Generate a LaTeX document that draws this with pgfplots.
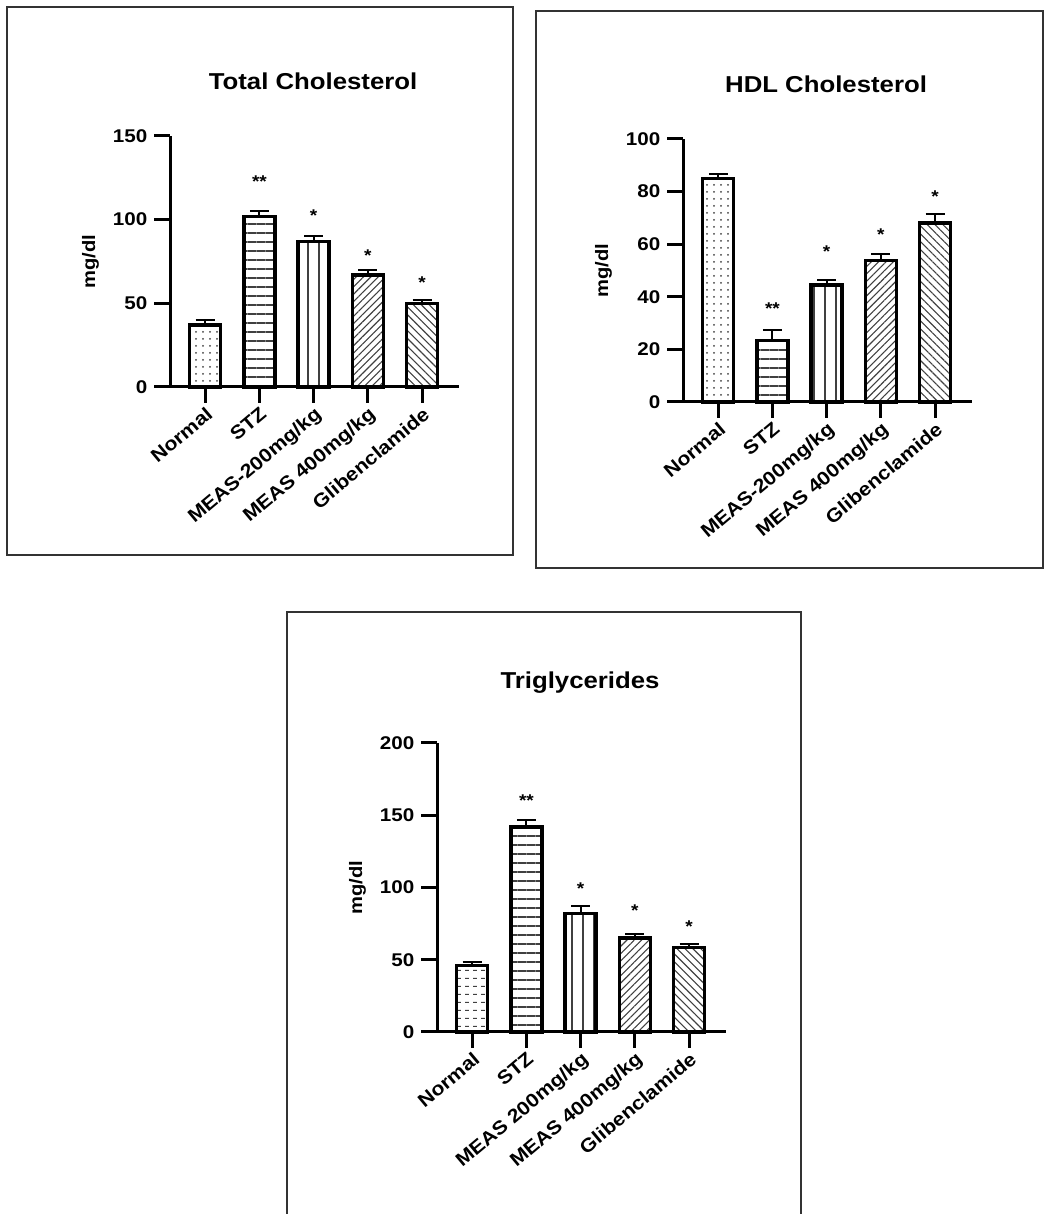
\documentclass[border=0pt]{standalone}
\usepackage{fontspec}
\setmainfont{Liberation Sans}[FakeStretch=1.12]
\usepackage{pgfplots}
\pgfplotsset{compat=1.18}
\usetikzlibrary{patterns.meta}
\tikzdeclarepattern{
  name=dashrows, type=uncolored,
  bounding box={(0,0) and (4pt,4pt)},
  tile size={(4pt,4pt)},
  code={\draw[line width=0.5pt] (0.6pt,2pt) -- (2.6pt,2pt);}
}
\pgfplotsset{
  panel/.style={
    scale only axis, width=144.5pt,
    ybar, bar width=15.5pt, bar shift=0pt,
    xmin=-0.65, xmax=4.68, ymin=0,
    axis x line*=bottom, axis y line*=left,
    axis line style={line width=1.5pt, black},
    every tick/.style={line width=1.5pt, black},
    major tick length=7.8pt,
    tick align=outside,
    xtick={0,1,2,3,4},
    x tick label style={rotate=40, anchor=north east, font=\bfseries\fontsize{9.5}{10}\selectfont, inner sep=1pt},
    y tick label style={font=\bfseries\fontsize{9.2}{10}\selectfont},
    /pgf/number format/assume math mode=true,
    ylabel={mg/dl},
    ylabel style={at={(axis description cs:-0.275,0.5)}, anchor=center, font=\bfseries\fontsize{9}{10}\selectfont},
    title style={at={(axis description cs:0.495,1)}, anchor=center, font=\bfseries\fontsize{11.5}{12}\selectfont},
    clip=false,
  },
  bars/.style={draw=black, line width=1.7pt, pattern={#1}, pattern color=black!75,
    error bars/.cd, y dir=plus, y explicit,
    error bar style={line width=1pt, black, solid},
    error mark options={rotate=90, mark size=4.75pt, line width=1pt, black}},
  stars/.style={only marks, mark=none, nodes near coords, point meta=explicit symbolic,
    nodes near coords style={anchor=center, yshift=-2pt, font=\bfseries\fontsize{8.5}{9}\selectfont}},
}
\begin{document}
\begin{tikzpicture}
\path[use as bounding box] (0,0) rectangle (522.5pt,607pt);
% frames
\draw[line width=1pt, black!80] (3.5pt,603.5pt) rectangle (256.5pt,329.5pt);
\draw[line width=1pt, black!80] (268pt,601.5pt) rectangle (521.5pt,323pt);
\draw[line width=1pt, black!80] (143.5pt,-1pt) -- (143.5pt,301pt) -- (400.5pt,301pt) -- (400.5pt,-1pt);

% Panel 1
\begin{axis}[panel, at={(85pt,413.5pt)}, anchor=south west, height=125.5pt,
  ymax=150, ytick={0,50,100,150},
  title={Total Cholesterol}, title style={yshift=21.5pt},
  xticklabels={Normal,STZ,MEAS-200mg/kg,MEAS 400mg/kg,Glibenclamide}]
\addplot[bars={Dots[distance=3.5pt, radius=0.5pt]}] coordinates {(0,37) +- (0,3)};
\addplot[bars={Lines[angle=0, distance=4.5pt, line width=0.7pt]}] coordinates {(1,102) +- (0,3)};
\addplot[bars={Lines[angle=90, distance=5.5pt, line width=0.7pt]}] coordinates {(2,87) +- (0,3.5)};
\addplot[bars={Lines[angle=45, distance=2.6pt, line width=0.55pt]}] coordinates {(3,67) +- (0,2.8)};
\addplot[bars={Lines[angle=-45, distance=2.8pt, line width=0.55pt]}] coordinates {(4,50) +- (0,2)};
\addplot[stars] coordinates {(1,125) [**] (2,105) [*] (3,81) [*] (4,65) [*]};
\end{axis}

% Panel 2
\begin{axis}[panel, at={(341.5pt,406pt)}, anchor=south west, height=131.5pt,
  ymax=100, ytick={0,20,40,60,80,100},
  title={HDL Cholesterol}, title style={yshift=21.5pt},
  xticklabels={Normal,STZ,MEAS-200mg/kg,MEAS 400mg/kg,Glibenclamide}]
\addplot[bars={Dots[distance=3.5pt, radius=0.5pt]}] coordinates {(0,85) +- (0,1.7)};
\addplot[bars={Lines[angle=0, distance=4.5pt, line width=0.7pt]}] coordinates {(1,23.3) +- (0,3.9)};
\addplot[bars={Lines[angle=90, distance=5.5pt, line width=0.7pt]}] coordinates {(2,44.5) +- (0,1.7)};
\addplot[bars={Lines[angle=45, distance=2.6pt, line width=0.55pt]}] coordinates {(3,53.7) +- (0,2.6)};
\addplot[bars={Lines[angle=-45, distance=2.8pt, line width=0.55pt]}] coordinates {(4,68) +- (0,3.6)};
\addplot[stars] coordinates {(1,37) [**] (2,58.6) [*] (3,65) [*] (4,79.5) [*]};
\end{axis}

% Panel 3
\begin{axis}[panel, at={(218.5pt,91pt)}, anchor=south west, height=144.5pt,
  ymax=200, ytick={0,50,100,150,200},
  title={Triglycerides}, title style={yshift=24pt},
  xticklabels={Normal,STZ,MEAS 200mg/kg,MEAS 400mg/kg,Glibenclamide}]
\addplot[bars={dashrows}] coordinates {(0,46) +- (0,2.5)};
\addplot[bars={Lines[angle=0, distance=4.5pt, line width=0.7pt]}] coordinates {(1,142) +- (0,4.5)};
\addplot[bars={Lines[angle=90, distance=5.5pt, line width=0.7pt]}] coordinates {(2,82) +- (0,5)};
\addplot[bars={Lines[angle=45, distance=2.6pt, line width=0.55pt]}] coordinates {(3,65) +- (0,2.7)};
\addplot[bars={Lines[angle=-45, distance=2.8pt, line width=0.55pt]}] coordinates {(4,58.5) +- (0,2.7)};
\addplot[stars] coordinates {(1,163) [**] (2,102) [*] (3,87) [*] (4,76) [*]};
\end{axis}
\end{tikzpicture}
\end{document}
